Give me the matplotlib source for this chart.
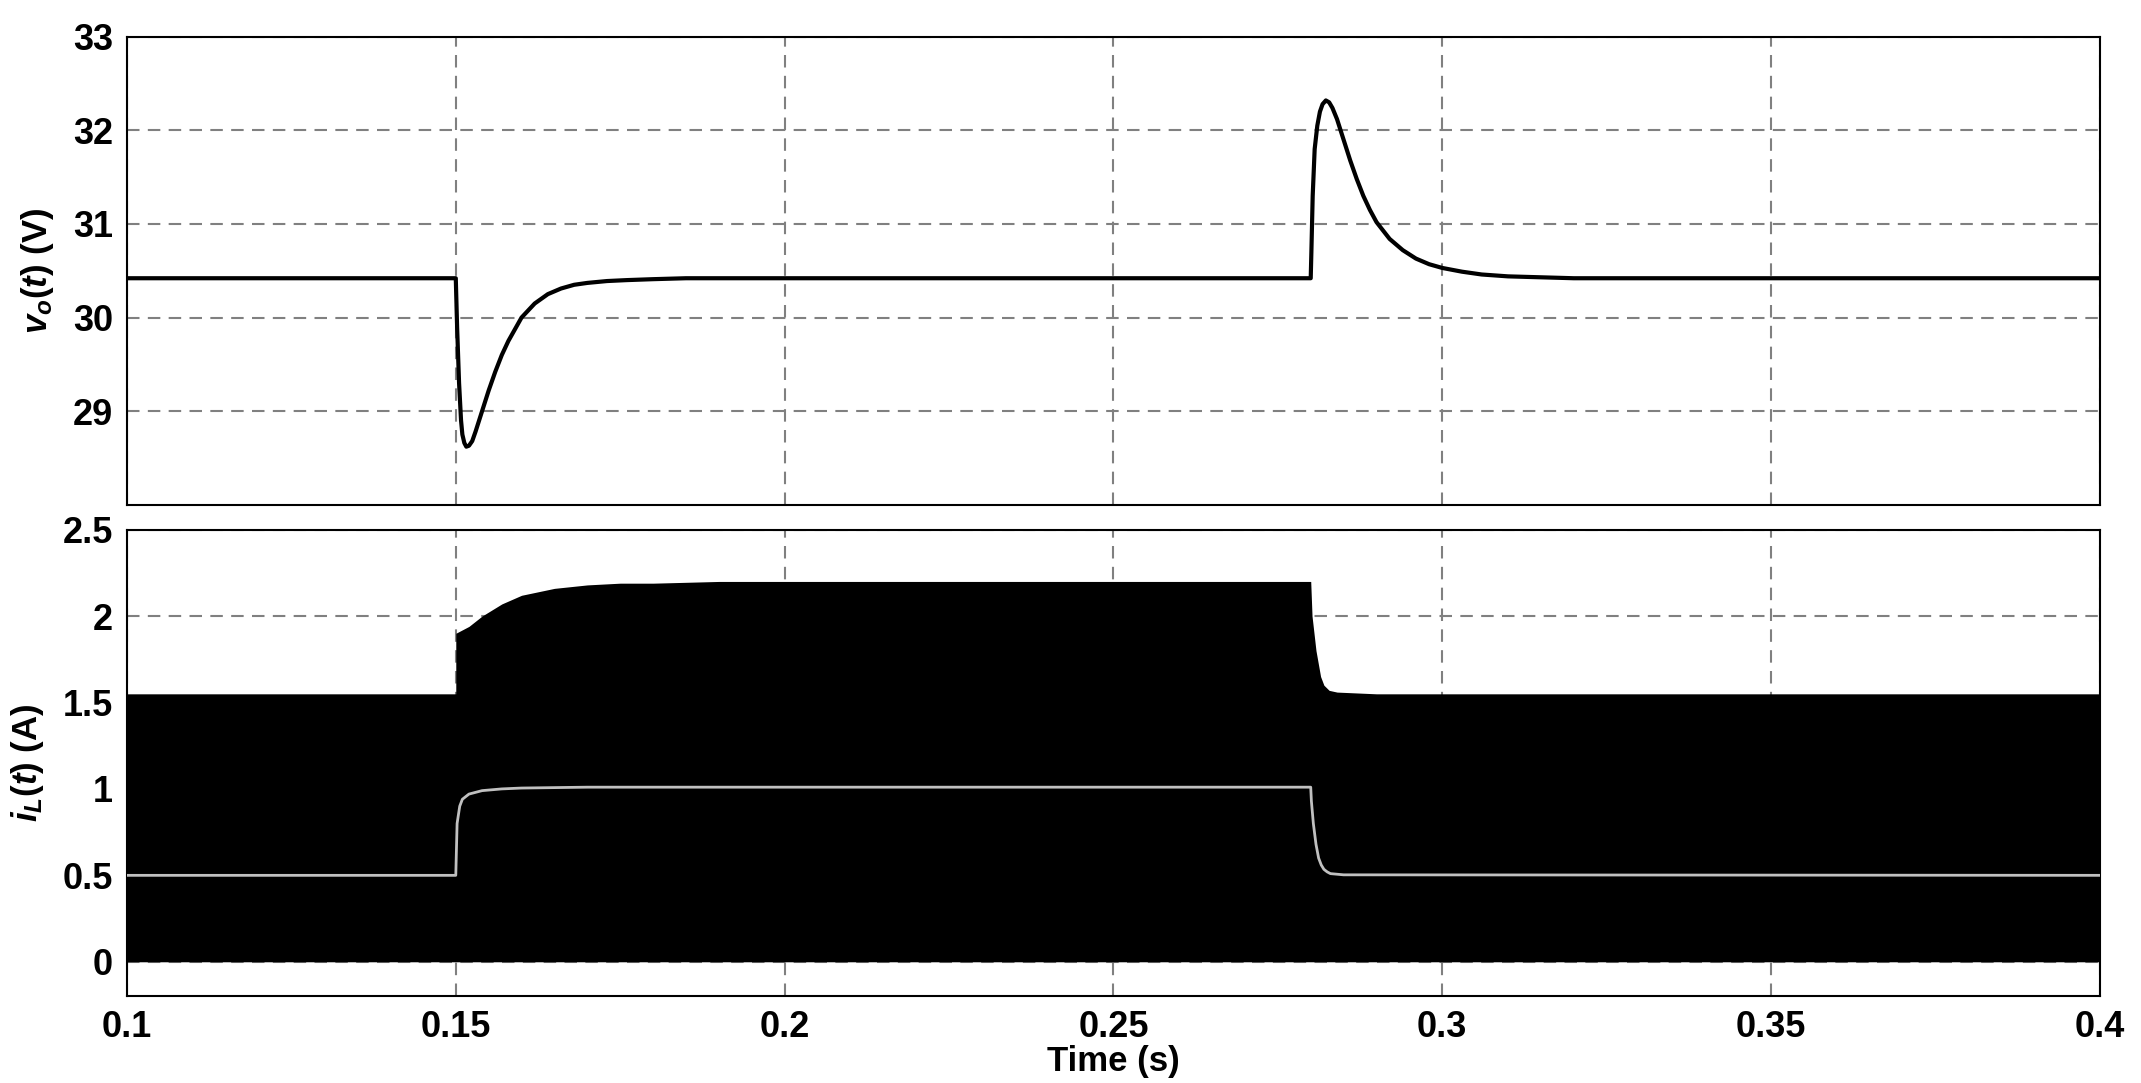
import matplotlib.pyplot as plt

plt.rcParams['font.family'] = ['Liberation Sans', 'DejaVu Sans']
plt.rcParams['font.weight'] = 'bold'
plt.rcParams['mathtext.fontset'] = 'custom'
plt.rcParams['mathtext.it'] = 'Liberation Sans:italic:bold'
plt.rcParams['mathtext.rm'] = 'Liberation Sans:bold'

# Output voltage trace (hand-read waypoints):
t_v = [0.1, 0.15, 0.1502, 0.1505, 0.1508, 0.151, 0.1513, 0.1516, 0.152,
       0.1525, 0.153, 0.154, 0.155, 0.156, 0.157, 0.158, 0.16, 0.162,
       0.164, 0.166, 0.168, 0.17, 0.173, 0.176, 0.18, 0.185, 0.19,
       0.28, 0.2801, 0.2803, 0.2806, 0.281, 0.2814, 0.2818, 0.2823,
       0.2828, 0.2833, 0.284, 0.285, 0.286, 0.287, 0.288, 0.289, 0.29,
       0.292, 0.294, 0.296, 0.298, 0.3, 0.303, 0.306, 0.31, 0.315,
       0.32, 0.4]
v_o = [30.42, 30.42, 29.9, 29.3, 28.9, 28.75, 28.66, 28.62, 28.63,
       28.68, 28.78, 29.0, 29.22, 29.42, 29.6, 29.75, 30.0, 30.15,
       30.25, 30.31, 30.35, 30.37, 30.39, 30.4, 30.41, 30.42, 30.42,
       30.42, 30.7, 31.3, 31.8, 32.05, 32.2, 32.28, 32.32,
       32.3, 32.24, 32.12, 31.9, 31.68, 31.48, 31.3, 31.15, 31.02,
       30.84, 30.72, 30.63, 30.57, 30.53, 30.49, 30.46, 30.44, 30.43,
       30.42, 30.42]

# Inductor current ripple envelope (upper edge of black band):
t_env = [0.1, 0.15, 0.1500, 0.152, 0.154, 0.157, 0.16, 0.165, 0.17, 0.175,
         0.18, 0.19, 0.28, 0.2802, 0.2808, 0.2815, 0.282, 0.2828, 0.284,
         0.29, 0.4]
i_env = [1.55, 1.55, 1.9, 1.94, 2.0, 2.07, 2.12, 2.16, 2.18, 2.19,
         2.19, 2.2, 2.2, 2.0, 1.8, 1.65, 1.6, 1.57, 1.56, 1.55, 1.55]
i_low = 0.0

# Average inductor current (grey line):
t_avg = [0.1, 0.15, 0.1502, 0.1506, 0.151, 0.152, 0.154, 0.157, 0.16,
         0.17, 0.28, 0.2801, 0.2804, 0.2808, 0.2812, 0.2816, 0.282,
         0.2825, 0.283, 0.285, 0.4]
i_avg = [0.5, 0.5, 0.8, 0.9, 0.94, 0.97, 0.99, 1.0, 1.005,
         1.01, 1.01, 0.93, 0.8, 0.68, 0.6, 0.56, 0.535,
         0.52, 0.51, 0.503, 0.5]

fig = plt.figure(figsize=(21.41, 10.83), dpi=100)
ax_v = fig.add_axes([0.0593, 0.534, 0.9215, 0.432])
ax_i = fig.add_axes([0.0593, 0.080, 0.9215, 0.431])

grid_kw = dict(color='#808080', linestyle=(0, (6, 4)), linewidth=1.5)

ax_v.plot(t_v, v_o, color='black', linewidth=3)
ax_v.set_ylim(28, 33)
ax_v.set_yticks([29, 30, 31, 32, 33])
ax_v.set_ylabel(r'$v_o(t)$ (V)', fontsize=25, fontweight='bold', labelpad=12)

ax_i.fill_between(t_env, i_low, i_env, color='black', linewidth=0, zorder=3)
ax_i.plot(t_avg, i_avg, color='#c0c0c0', linewidth=2, zorder=4)
ax_i.set_ylim(-0.2, 2.5)
ax_i.set_yticks([0, 0.5, 1, 1.5, 2, 2.5])
ax_i.set_ylabel(r'$i_L(t)$ (A)', fontsize=25, fontweight='bold', labelpad=12)
ax_i.set_xlabel('Time (s)', fontsize=25, fontweight='bold', labelpad=0)

for ax in (ax_v, ax_i):
    ax.set_xlim(0.1, 0.4)
    ax.set_xticks([0.1, 0.15, 0.2, 0.25, 0.3, 0.35, 0.4])
    ax.grid(True, **grid_kw)
    ax.set_axisbelow(True)
    ax.tick_params(labelsize=26, length=0, pad=10)
    for s in ax.spines.values():
        s.set_linewidth(1.5)

ax_v.set_xticklabels([])
ax_i.set_xticklabels(['0.1', '0.15', '0.2', '0.25', '0.3', '0.35', '0.4'])
ax_i.set_yticklabels(['0', '0.5', '1', '1.5', '2', '2.5'])

fig.savefig('out.png', dpi=100)
